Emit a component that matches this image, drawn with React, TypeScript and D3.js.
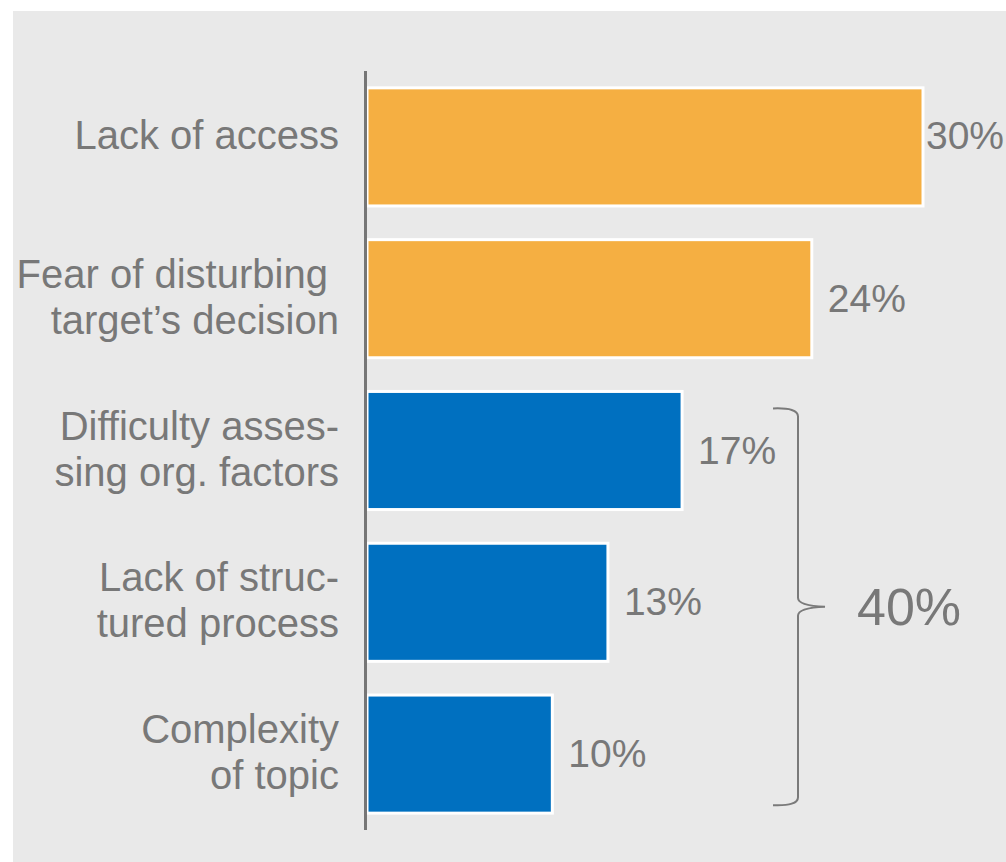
import React from "react";
import * as d3 from "d3";

const categories: string[] = [
  "Lack of access",
  "Fear of disturbing |target’s decision",
  "Difficulty asses-|sing org. factors",
  "Lack of struc-|tured process",
  "Complexity|of topic",
];
const values: number[] = [30, 24, 17, 13, 10];
const groups: string[] = ["A", "A", "B", "B", "B"];
const valueLabels: string[] = ["30%", "24%", "17%", "13%", "10%"];
const bracketLabel = "40%";
const bracketGroup = "B";

const W = 1006;
const H = 862;
const FONT = "'Liberation Sans', Arial, sans-serif";
const TEXT = "#787878";

export default function App() {
  const x = d3.scaleLinear().domain([0, 30]).range([367, 923]);
  const y = d3
    .scaleBand<string>()
    .domain(categories)
    .range([71, 830])
    .paddingInner(0.222)
    .paddingOuter(0.111);
  const color = d3.scaleOrdinal<string, string>().domain(["A", "B"]).range(["#F5AF42", "#0070C0"]);
  const bw = y.bandwidth();

  const bIdx = groups.map((g, i) => (g === bracketGroup ? i : -1)).filter((i) => i >= 0);
  const bTop = (y(categories[bIdx[0]]) as number) + 17;
  const bBot = (y(categories[bIdx[bIdx.length - 1]]) as number) + bw - 8;
  const bMid = (bTop + bBot) / 2;
  const bx = 798;
  const p = d3.path();
  p.moveTo(773, bTop);
  p.quadraticCurveTo(bx, bTop - 1, bx, bTop + 8);
  p.lineTo(bx, bMid - 9);
  p.quadraticCurveTo(bx, bMid - 1, bx + 27, bMid);
  p.quadraticCurveTo(bx, bMid + 1, bx, bMid + 9);
  p.lineTo(bx, bBot - 8);
  p.quadraticCurveTo(bx, bBot + 1, 773, bBot);

  return (
    <svg
      width={W}
      height={H}
      style={{ position: "absolute", left: 0, top: 0, display: "block" }}
      fontFamily={FONT}
    >
      <rect x={0} y={0} width={W} height={H} fill="#ffffff" />
      <rect x={13} y={11} width={W - 13} height={H - 11} fill="#E9E9E9" />
      {categories.map((c, i) => {
        const yc = (y(c) as number) + bw / 2;
        const lines = c.split("|");
        const n = lines.length;
        const barEnd = x(values[i]);
        const clamp = barEnd + 16 + 78 > W - 2;
        const vx = clamp ? W - 2 : barEnd + 16;
        const lineY = (k: number) => (n === 1 ? yc + 2 : yc + 12 + (k - (n - 1) / 2) * 46);
        return (
          <g key={c}>
            <rect
              x={x(0)}
              y={y(c) as number}
              width={barEnd - x(0)}
              height={bw}
              fill={color(groups[i])}
              stroke="#ffffff"
              strokeWidth={3}
            />
            {lines.map((l, k) => (
              <text
                key={k}
                x={339}
                y={lineY(k)}
                textAnchor="end"
                fontSize={40}
                fill={TEXT}
                style={{ whiteSpace: "pre" }}
              >
                {l}
              </text>
            ))}
            <text
              x={vx}
              y={clamp ? yc + 2 : yc + 13}
              textAnchor={clamp ? "end" : "start"}
              fontSize={39}
              fill={TEXT}
            >
              {valueLabels[i]}
            </text>
          </g>
        );
      })}
      <line x1={365.5} x2={365.5} y1={71} y2={830} stroke="#767676" strokeWidth={3} />
      <path d={p.toString()} fill="none" stroke="#7a7a7a" strokeWidth={2} />
      <text x={857} y={bMid + 18} fontSize={52} fill={TEXT}>
        {bracketLabel}
      </text>
    </svg>
  );
}
